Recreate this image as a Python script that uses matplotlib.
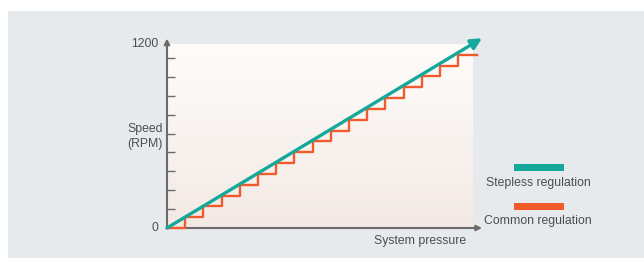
import numpy as np
import matplotlib
matplotlib.use('Agg')
from matplotlib import pyplot as plt
from matplotlib.patches import Rectangle

plt.rcParams['font.family'] = ['Liberation Sans', 'DejaVu Sans']

# pressure steps (arbitrary units) and the common regulation speed levels
step_pressure = [0, 1, 2, 3, 4, 5, 6, 7, 8, 9, 10, 11, 12, 13, 14, 15, 16, 17]
step_speed = [0, 69, 138, 206, 275, 344, 413, 481, 550, 619, 688, 756, 825,
              894, 963, 1031, 1100, 1100]

# stepless regulation line
stepless_pressure = [0, 17.3]
stepless_speed = [0, 1205]

speed_ticks = [120, 240, 360, 480, 600, 720, 840, 960, 1080]
speed_labels = ['0', '1200']

TEAL = '#14a89b'
ORANGE = '#f15a2b'
AXIS = '#6b6b6b'
TEXT = '#4d4d4d'
FS = 8.8
W, H = 644, 258

fig = plt.figure(figsize=(W / 100, H / 100), dpi=100)
fig.patch.set_facecolor('white')
fig.patches.append(Rectangle((8 / W, 0), 1, (H - 11) / H, transform=fig.transFigure,
                             facecolor='#e7eaed', edgecolor='none', zorder=-10))

ax = fig.add_axes([167 / W, (H - 228) / H, (482 - 167) / W, (228 - 39) / H])
ax.set_xlim(0, 17.3)
ax.set_ylim(0, 1200)
ax.patch.set_alpha(0)
for s in ax.spines.values():
    s.set_visible(False)

# gradient background box
grad = np.linspace(0, 1, 100).reshape(-1, 1)
top = np.array([0.995, 0.99, 0.985])
bot = np.array([0.955, 0.915, 0.895])
img = top + (bot - top) * grad[:, :, None]
ax.imshow(img, extent=[0, 16.8, 0, 1168], aspect='auto', origin='upper', zorder=0)

# axes with arrows
ax.annotate('', xy=(0, 1203), xytext=(0, 0),
            arrowprops=dict(arrowstyle='-|>', color=AXIS, lw=1.5, mutation_scale=8,
                            shrinkA=0, shrinkB=0), annotation_clip=False, zorder=3)
ax.annotate('', xy=(17.3, 0), xytext=(0, 0),
            arrowprops=dict(arrowstyle='-|>', color=AXIS, lw=1.5, mutation_scale=8,
                            shrinkA=0, shrinkB=0), annotation_clip=False, zorder=3)

ax.set_xticks([])
ax.set_yticks(speed_ticks)
ax.set_yticklabels([])
ax.tick_params(axis='y', direction='in', length=6, width=1, color=AXIS)
ax.text(-0.5, 0, speed_labels[0], ha='right', va='center', fontsize=FS, color=TEXT)
ax.text(-0.5, 1170, speed_labels[1], ha='right', va='center', fontsize=FS, color=TEXT)
ax.text(-1.2, 580, 'Speed\n(RPM)', ha='center', va='center', fontsize=FS, color=TEXT,
        linespacing=1.3)
ax.text(16.45, -85, 'System pressure', ha='right', va='center', fontsize=FS, color=TEXT)

# common regulation staircase
ax.step(step_pressure, step_speed, where='post', color=ORANGE, lw=1.7, zorder=4,
        clip_on=False)

# stepless regulation arrow
ax.annotate('', xy=(stepless_pressure[1], stepless_speed[1]),
            xytext=(stepless_pressure[0], stepless_speed[0]),
            arrowprops=dict(arrowstyle='-|>', color=TEAL, lw=2.4, mutation_scale=16,
                            shrinkA=0, shrinkB=0), annotation_clip=False, zorder=5)

# legend
fig.patches.append(Rectangle((514 / W, (H - 171) / H), 50 / W, 7 / H,
                             transform=fig.transFigure, facecolor=TEAL, edgecolor='none'))
fig.text(538 / W, (H - 183) / H, 'Stepless regulation', ha='center', va='center',
         fontsize=FS, color=TEXT)
fig.patches.append(Rectangle((514 / W, (H - 210) / H), 50 / W, 7 / H,
                             transform=fig.transFigure, facecolor=ORANGE, edgecolor='none'))
fig.text(538 / W, (H - 221) / H, 'Common regulation', ha='center', va='center',
         fontsize=FS, color=TEXT)

plt.savefig('out.png', dpi=100)
